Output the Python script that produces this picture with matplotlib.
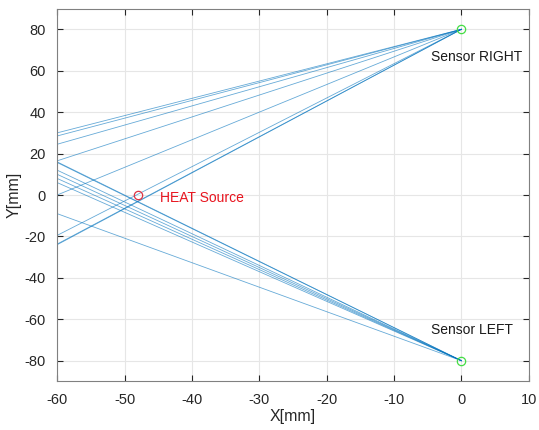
import numpy as np
import matplotlib.pyplot as plt

plt.rcParams['font.family'] = ['Liberation Sans', 'DejaVu Sans']
plt.rcParams['axes.unicode_minus'] = False

# sensor and source positions [mm]
sensor_right = (0, 80)
sensor_left = (0, -80)
heat_source = (-48, 0)

# where each ray hits the left edge x = -60
edge_x = -60
right_ray_y = [30, 28.5, 24.5, 16.5, 0, -19.5, -24, -23.7]
left_ray_y = [16, 15.7, 12, 10, 8, 6, -9]

fig = plt.figure(figsize=(5.39, 4.30), dpi=100)
ax = fig.add_axes([0.106, 0.113, 0.875, 0.867])

ray_color = '#0072BD'
for y in right_ray_y:
    ax.plot([edge_x, sensor_right[0]], [y, sensor_right[1]], color=ray_color, lw=0.6, alpha=0.6)
for y in left_ray_y:
    ax.plot([edge_x, sensor_left[0]], [y, sensor_left[1]], color=ray_color, lw=0.6, alpha=0.6)

ax.plot(*sensor_right, 'o', ms=6, mfc='none', mec='#44dd44', mew=0.9)
ax.plot(*sensor_left, 'o', ms=6, mfc='none', mec='#44dd44', mew=0.9)
ax.plot(*heat_source, 'o', ms=6, mfc='none', mec='#dd3344', mew=0.9)

ax.text(-4.5, 66.5, 'Sensor RIGHT', fontsize=10, color='#1a1a1a', va='center')
ax.text(-4.5, -65, 'Sensor LEFT', fontsize=10, color='#1a1a1a', va='center')
ax.text(-44.7, -1.5, 'HEAT Source', fontsize=10, color='#e8141e', va='center')

ax.set_xlim(-60, 10)
ax.set_ylim(-90, 90)
ax.set_xticks(np.arange(-60, 11, 10))
ax.set_yticks(np.arange(-80, 81, 20))
ax.grid(True, color='#e6e6e6', lw=0.8)
ax.set_axisbelow(True)
ax.tick_params(direction='in', top=True, right=True, length=4, width=0.8,
               colors='#262626', labelsize=10.5, labelcolor='#262626', pad=8)
for s in ax.spines.values():
    s.set_color('#808080')
    s.set_linewidth(0.8)
ax.set_xlabel('X[mm]', fontsize=11.5, color='#262626', labelpad=2)
ax.set_ylabel('Y[mm]', fontsize=11.5, color='#262626', labelpad=2)

plt.savefig('out.png', dpi=100)
